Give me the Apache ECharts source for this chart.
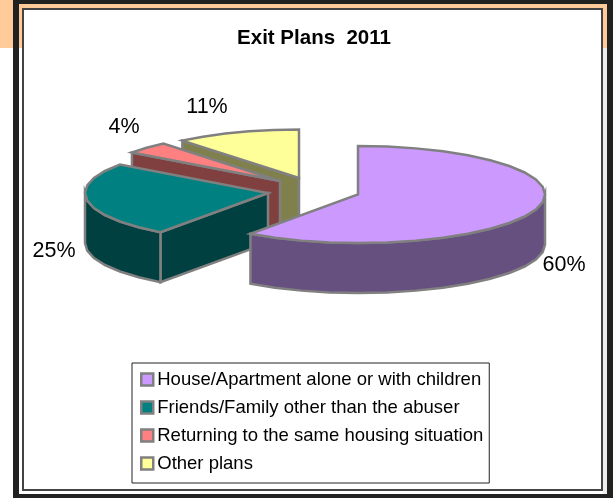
<!DOCTYPE html>
<html>
<head>
<meta charset="utf-8">
<style>html,body{margin:0;padding:0;background:#fff}#chart{width:613px;height:498px}</style>
<script src="https://cdn.jsdelivr.net/npm/echarts@6/dist/echarts.min.js"></script>
</head>
<body>
<div id="chart"></div>
<script>
// Exit plans, share of respondents in percent
const categories = [
  'House/Apartment alone or with children',
  'Friends/Family other than the abuser',
  'Returning to the same housing situation',
  'Other plans'
];
const shares = [60, 25, 4, 11];
const topColors = ['#CC99FF', '#008080', '#FF8080', '#FFFF99'];
const sideColors = ['#66507F', '#004040', '#804040', '#80804C'];

// Projection of the tilted, exploded pie
const radiusRight = 187, radiusLeft = 183, radiusY = 48.5, depth = 50, facetStep = 9;
const hubs = [[358, 194.5], [268, 193], [280, 181], [299, 178]];
const labelSpots = [[564, 265], [54, 251], [124, 127], [207, 107]];
const stroke = '#808080';
const total = shares.reduce((a, b) => a + b, 0);

function rimPoint(hub, deg, drop) {
  const t = deg * Math.PI / 180;
  const s = Math.sin(t);
  return [hub[0] + (s < 0 ? radiusLeft : radiusRight) * s, hub[1] - radiusY * Math.cos(t) + (drop || 0)];
}
function arcPoints(hub, from, to, drop) {
  const pts = [];
  const n = Math.max(1, Math.ceil((to - from) / facetStep));
  for (let i = 0; i <= n; i++) pts.push(rimPoint(hub, from + (to - from) * i / n, drop));
  return pts;
}
function poly(points, fill) {
  return {
    type: 'polygon',
    shape: { points },
    style: { fill, stroke, lineWidth: 2.5, lineJoin: 'miter' }
  };
}

// Draws one wedge: radial wall, outer wall, top face and its percentage label
function wedgeRenderer(index) {
  return function (params, api) {
    const value = api.value(0);
    let before = 0;
    for (let i = 0; i < index; i++) before += shares[i];
    const from = before / total * 360;
    const to = from + value / total * 360;
    const hub = hubs[index];
    const children = [];
    if (Math.sin(from * Math.PI / 180) < -1e-6) {
      const rim = rimPoint(hub, from);
      children.push(poly([hub, rim, [rim[0], rim[1] + depth], [hub[0], hub[1] + depth]], sideColors[index]));
    }
    const a = Math.max(from, 90), b = Math.min(to, 270);
    if (b > a) {
      const upper = arcPoints(hub, a, b, 0);
      const lower = arcPoints(hub, a, b, depth).reverse();
      children.push(poly(upper.concat(lower), sideColors[index]));
    }
    children.push(poly([hub].concat(arcPoints(hub, from, to, 0)), topColors[index]));
    children.push({
      type: 'text',
      style: {
        text: value + '%',
        x: labelSpots[index][0],
        y: labelSpots[index][1],
        align: 'center',
        verticalAlign: 'middle',
        fill: '#000',
        font: '21.5px "Liberation Sans", Arial, sans-serif'
      }
    });
    return { type: 'group', children };
  };
}

// Page frame around the chart area
function band(x, y, width, height, fill) {
  return { type: 'rect', silent: true, z: -1, shape: { x, y, width, height }, style: { fill } };
}
const frame = [
  band(0, 0, 613, 498, '#FFFFFF'),
  band(0, 0, 13, 48, '#FFCC99'),
  band(19, 4, 588, 44, '#FFCC99'),
  band(603, 48, 4, 446, '#EEEEEE'),
  band(13, 0, 600, 4, '#222220'),
  band(13, 0, 6, 498, '#222220'),
  band(607, 0, 6, 498, '#222220'),
  band(13, 494, 600, 4, '#222220'),
  band(22, 8, 581, 483, '#444444'),
  band(24, 10, 577, 479, '#FFFFFF')
];

const chart = echarts.init(document.getElementById('chart'), null, { renderer: 'canvas' });
chart.setOption({
  animation: false,
  backgroundColor: '#fff',
  title: {
    text: 'Exit Plans  2011',
    left: 309,
    top: 23,
    textAlign: 'center',
    textStyle: { fontFamily: '"Liberation Sans", Arial, sans-serif', fontWeight: 'bold', fontSize: 20.5, color: '#000' }
  },
  legend: {
    left: 132,
    top: 363,
    orient: 'vertical',
    backgroundColor: '#fff',
    borderColor: '#222',
    borderWidth: 1,
    padding: [7, 6, 10, 8],
    itemWidth: 12,
    itemHeight: 12,
    itemGap: 9,
    selectedMode: false,
    textStyle: { fontFamily: '"Liberation Sans", Arial, sans-serif', fontSize: 18.5, color: '#000', lineHeight: 19, padding: [0, 0, 0, -1] },
    data: categories.map((name, i) => ({
      name,
      icon: 'rect',
      itemStyle: { color: topColors[i], borderColor: stroke, borderWidth: 2.5 }
    }))
  },
  graphic: { elements: frame },
  series: categories.map((name, i) => ({
    type: 'custom',
    name,
    coordinateSystem: 'none',
    silent: true,
    // wedges further back are painted first
    z: [5, 4, 3, 2][i] + 2,
    itemStyle: { color: topColors[i] },
    data: [[shares[i]]],
    renderItem: wedgeRenderer(i)
  }))
});
</script>
</body>
</html>
